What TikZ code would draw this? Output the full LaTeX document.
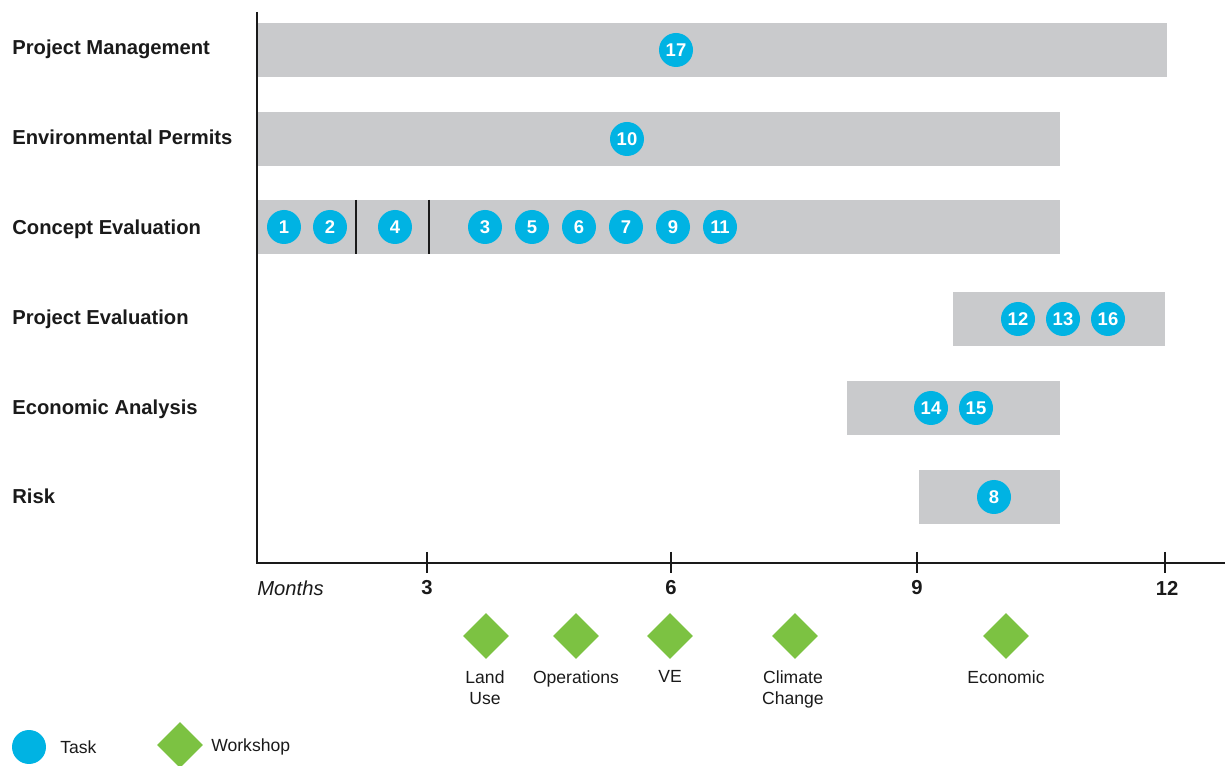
\documentclass[tikz,border=0pt]{standalone}
\usepackage{fontspec}
\setmainfont{Liberation Sans}
\usetikzlibrary{shapes.geometric}
\definecolor{barsgray}{HTML}{C9CACC}
\definecolor{taskblue}{HTML}{00B3E3}
\definecolor{workgreen}{HTML}{7CC242}
\definecolor{inkdark}{HTML}{1A1A1A}

\begin{document}
\begin{tikzpicture}[
      x=0.02cm, y=-0.02cm,
      lane/.style={anchor=base west, text=inkdark, inner sep=0pt,
        font=\fontsize{11.5}{13}\selectfont\bfseries},
      task/.style={circle, fill=taskblue, text=white, inner sep=0pt,
        minimum size=0.68cm, font=\fontsize{10.5}{12}\selectfont\bfseries},
      workshop/.style={diamond, fill=workgreen, inner sep=0pt,
        minimum width=0.92cm, minimum height=0.92cm},
      wlabel/.style={align=center, text=inkdark, inner sep=0pt,
        font=\fontsize{10}{12}\selectfont},
      tick/.style={text=inkdark, inner sep=0pt,
        font=\fontsize{11.5}{13}\selectfont\bfseries}
    ]
      \useasboundingbox (0,0) rectangle (1225,766);

      % lanes
      \node[lane] (pm)   at (12,55)  {Project Management};
      \node[lane] (ep)   at (12,145) {Environmental Permits};
      \node[lane] (ce)   at (12,235) {Concept Evaluation};
      \node[lane] (pe)   at (12,325) {Project Evaluation};
      \node[lane] (ea)   at (12,415) {Economic Analysis};
      \node[lane] (risk) at (12,504) {Risk};

      % bars
      \fill[barsgray] (257,23)  rectangle (1167,77);
      \fill[barsgray] (257,112) rectangle (1060,166);
      \fill[barsgray] (257,200) rectangle (1060,254);
      \fill[barsgray] (953,292) rectangle (1165,346);
      \fill[barsgray] (847,381) rectangle (1060,435);
      \fill[barsgray] (919,470) rectangle (1060,524);
      \draw[line width=1.2pt, inkdark] (356,200) -- (356,254);
      \draw[line width=1.2pt, inkdark] (429,200) -- (429,254);

      % axes
      \draw[line width=1pt, inkdark] (257,12) -- (257,563) -- (1225,563);
      \foreach \x in {427,671,917,1165}
        \draw[line width=0.8pt, inkdark] (\x,552) -- (\x,573);
      \node[tick, anchor=west, font=\fontsize{11.5}{13}\selectfont\itshape]
        (months) at (257,588) {Months};
      \node[tick] (m3)  at (427,588)  {3};
      \node[tick] (m6)  at (671,588)  {6};
      \node[tick] (m9)  at (917,588)  {9};
      \node[tick] (m12) at (1167,588) {12};

      % tasks
      \node[task] (t17) at (676,50)  {17};
      \node[task] (t10) at (627,139) {10};
      \node[task] (t1)  at (284,227) {1};
      \node[task] (t2)  at (330,227) {2};
      \node[task] (t4)  at (395,227) {4};
      \node[task] (t3)  at (485,227) {3};
      \node[task] (t5)  at (532,227) {5};
      \node[task] (t6)  at (579,227) {6};
      \node[task] (t7)  at (626,227) {7};
      \node[task] (t9)  at (673,227) {9};
      \node[task] (t11) at (720,227) {11};
      \node[task] (t12) at (1018,319) {12};
      \node[task] (t13) at (1063,319) {13};
      \node[task] (t16) at (1108,319) {16};
      \node[task] (t14) at (931,408) {14};
      \node[task] (t15) at (976,408) {15};
      \node[task] (t8)  at (994,497) {8};

      % workshops
      \node[workshop] (landuse) at (486,636)  {};
      \node[workshop] (ops)     at (576,636)  {};
      \node[workshop] (ve)      at (670,636)  {};
      \node[workshop] (climate) at (795,636)  {};
      \node[workshop] (econ)    at (1006,636) {};
      \node[wlabel, anchor=north] at (485,670)  {Land\\Use};
      \node[wlabel, anchor=north] at (576,670)  {Operations};
      \node[wlabel, anchor=north] at (670,670)  {VE};
      \node[wlabel, anchor=north] at (793,670)  {Climate\\Change};
      \node[wlabel, anchor=north] at (1006,670) {Economic};

      % legend
      \node[task] (keytask) at (29,747) {};
      \node[wlabel, anchor=west] (keytasktxt) at (60,747) {Task};
      \node[workshop] (keyshop) at (180,745) {};
      \node[wlabel, anchor=west] (keyshoptxt) at (211,747) {Workshop};
    \end{tikzpicture}
\end{document}
